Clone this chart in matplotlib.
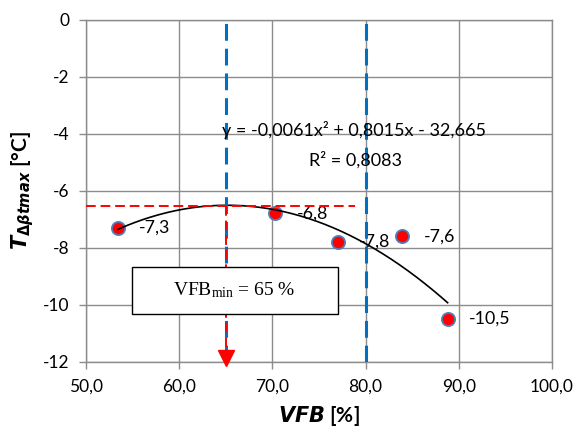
import numpy as np
import matplotlib
matplotlib.use("Agg")
import matplotlib.pyplot as plt
from matplotlib.patches import Rectangle

plt.rcParams['font.family'] = ['Lato', 'DejaVu Sans']
plt.rcParams['mathtext.fontset'] = 'custom'
plt.rcParams['mathtext.it'] = 'DejaVu Sans:italic:bold'
plt.rcParams['mathtext.rm'] = 'DejaVu Sans:bold'
plt.rcParams['mathtext.bf'] = 'DejaVu Sans:bold'

# ---- data ----
vfb = [53.4, 70.3, 77.0, 83.9, 88.8]
tmax = [-7.3, -6.8, -7.8, -7.6, -10.5]
point_labels = ["-7,3", "-6,8", "-7,8", "-7,6", "-10,5"]
eq_text = "y = -0,0061x² + 0,8015x - 32,665"
r2_text = "R² = 0,8083"
vfb_min = 65
vfb_limit = 80
t_level = -6.55
t_level_xmax = 78.9
xticks = [50, 60, 70, 80, 90, 100]
xticklabels = ["50,0", "60,0", "70,0", "80,0", "90,0", "100,0"]
yticks = [0, -2, -4, -6, -8, -10, -12]
yticklabels = ["0", "-2", "-4", "-6", "-8", "-10", "-12"]
box_x = [54.9, 77.0]
box_y = [-10.33, -8.68]

W, H = 581, 437
fig = plt.figure(figsize=(W / 100, H / 100), dpi=100)
ax = fig.add_axes([86 / W, 1 - 361.7 / H, (552 - 86) / W, (361.7 - 19.5) / H])

gray = '#8c8c8c'
ax.set_xlim(50, 100)
ax.set_ylim(-12, 0)
ax.set_xticks(xticks)
ax.set_xticklabels(xticklabels)
ax.set_yticks(yticks)
ax.set_yticklabels(yticklabels)
ax.grid(True, color=gray, lw=1.0, zorder=0)
ax.set_axisbelow(True)
for s in ax.spines.values():
    s.set_color(gray)
    s.set_linewidth(1.0)
ax.tick_params(axis='both', direction='out', length=5, width=1.0, color=gray,
               labelsize=12.5, pad=7, labelcolor='black')

# trend line (2nd order polynomial fit of the points)
coef = np.polyfit(vfb, tmax, 2)
xs = np.linspace(min(vfb), max(vfb), 200)
ax.plot(xs, np.polyval(coef, xs), color='black', lw=1.2, zorder=3)

# points
ax.plot(vfb, tmax, linestyle='none', marker='o', ms=9.5, mfc='#FF0000',
        mec='#4F81BD', mew=1.3, zorder=2.6)
for x, y, lab in zip(vfb, tmax, point_labels):
    ax.annotate(lab, (x, y), xytext=(15.5, 0), textcoords='offset points',
                ha='left', va='center', fontsize=12.8, zorder=2.5)

# blue dashed verticals
for xv in [vfb_min, vfb_limit]:
    ax.axvline(xv, color='#0070C0', lw=2.2, dashes=(5.5, 2.6), zorder=4)

# red dashed lines
ax.plot([50, t_level_xmax], [t_level, t_level], color='#FF0000', lw=1.4,
        dashes=(5, 2.5), zorder=5)
ax.plot([vfb_min, vfb_min], [t_level, -11.7], color='#FF0000', lw=1.4,
        dashes=(5, 2.5), zorder=5)
ax.plot([vfb_min], [-11.88], marker='v', ms=11, color='#FF0000',
        linestyle='none', zorder=5, clip_on=False)

# equation
ax.text(78.8, -3.88, eq_text, ha='center', va='center', fontsize=13, zorder=6)
ax.text(78.9, -4.93, r2_text, ha='center', va='center', fontsize=13, zorder=6)

# box
ax.add_patch(Rectangle((box_x[0], box_y[0]), box_x[1] - box_x[0],
                       box_y[1] - box_y[0], facecolor='white',
                       edgecolor='black', lw=1.0, zorder=6))
ax.text((box_x[0] + box_x[1]) / 2, (box_y[0] + box_y[1]) / 2,
        r'$\mathregular{VFB_{min}}$ = 65 %', ha='center', va='center',
        fontsize=14, family='Liberation Serif', zorder=7)

# axis labels
ax.set_xlabel(r'$VFB$ [%]', fontsize=15, fontweight='bold', labelpad=7)
ax.set_ylabel(r'$T_{\Delta\beta tmax}$ [°C]', fontsize=15, fontweight='bold',
              labelpad=5)

fig.savefig('out.png', dpi=100)
